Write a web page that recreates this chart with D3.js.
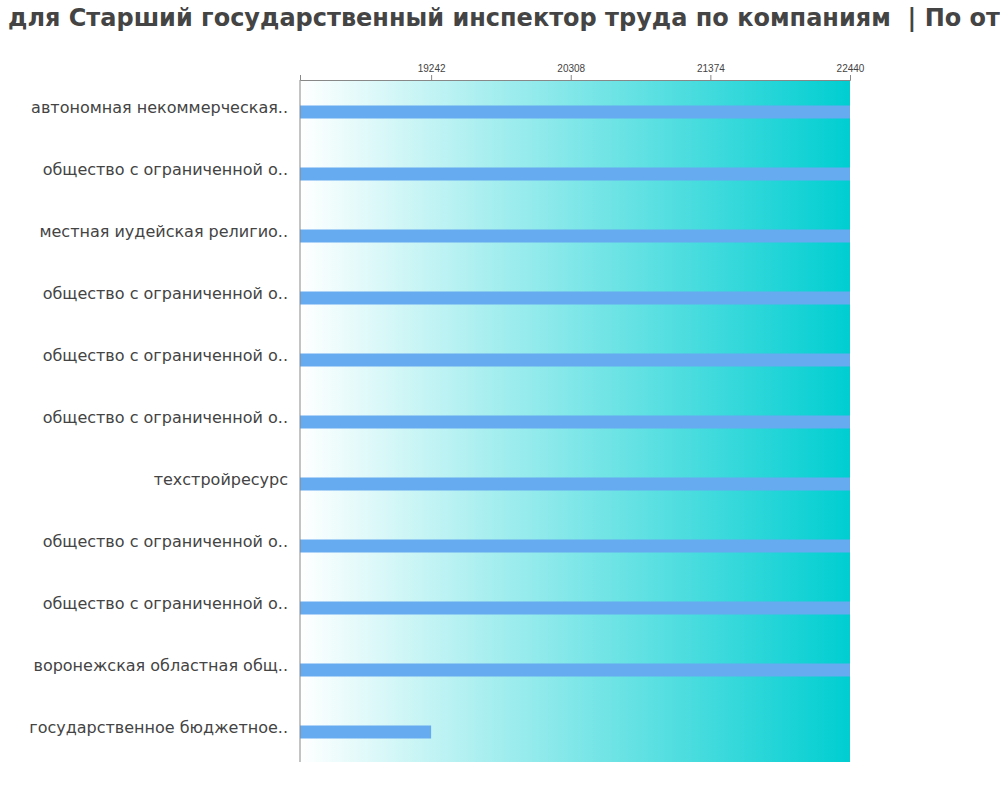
<!DOCTYPE html>
<html><head><meta charset="utf-8">
<script src="https://cdn.jsdelivr.net/npm/d3@7.9.0/dist/d3.min.js"></script>
<style>body{margin:0;background:#fff;font-family:"DejaVu Sans",sans-serif;overflow:hidden}</style>
</head><body>
<svg id="chart" width="1000" height="800"></svg>
<script>
const companies = [
  'автономная некоммерческая..',
  'общество с ограниченной о..',
  'местная иудейская религио..',
  'общество с ограниченной о..',
  'общество с ограниченной о..',
  'общество с ограниченной о..',
  'техстройресурс',
  'общество с ограниченной о..',
  'общество с ограниченной о..',
  'воронежская областная общ..',
  'государственное бюджетное..'
];
const salaries = [22440, 22440, 22440, 22440, 22440, 22440, 22440, 22440, 22440, 22440, 19242];
const tickValues = [19242, 20308, 21374, 22440];

const svg = d3.select('#chart');
const m = {top: 80, left: 300, right: 150, bottom: 38};
const w = 1000 - m.left - m.right, h = 800 - m.top - m.bottom;

svg.append('text').attr('x', 8).attr('y', 26)
  .attr('font-size', 24).attr('font-weight', 'bold').attr('fill', '#444')
  .attr('xml:space', 'preserve').style('white-space', 'pre')
  .text('для Старший государственный инспектор труда по компаниям  | По от');

const defs = svg.append('defs');
const grad = defs.append('linearGradient').attr('id', 'bg');
grad.append('stop').attr('offset', '0%').attr('stop-color', '#ffffff');
grad.append('stop').attr('offset', '100%').attr('stop-color', '#00ced1');

const g = svg.append('g').attr('transform', `translate(${m.left},${m.top})`);
g.append('rect').attr('width', w).attr('height', h).attr('fill', 'url(#bg)');

const x = d3.scaleLinear().domain([18241, 22440]).range([0, w]);
const y = d3.scaleBand().domain(d3.range(companies.length)).range([0, h]);

g.selectAll('.bar').data(salaries).join('rect')
  .attr('x', 0).attr('y', (d, i) => y(i) + y.bandwidth() / 2 - 5.5)
  .attr('width', d => x(d)).attr('height', 13).attr('fill', '#66aaf0');

const ax = g.append('g').call(d3.axisTop(x).tickValues(tickValues).tickSize(5).tickFormat(d3.format('d')));
ax.select('.domain').attr('stroke', '#888');
ax.selectAll('line').attr('stroke', '#888');
ax.selectAll('text').attr('font-size', 10).attr('fill', '#444');

g.append('line').attr('x1', 0).attr('x2', 0).attr('y1', 0).attr('y2', h).attr('stroke', '#888');

g.selectAll('.lbl').data(companies).join('text')
  .attr('x', -12).attr('y', (d, i) => y(i) + y.bandwidth() / 2 + 2)
  .attr('text-anchor', 'end').attr('font-size', 16).attr('fill', '#444')
  .text(d => d);
</script>
</body></html>
